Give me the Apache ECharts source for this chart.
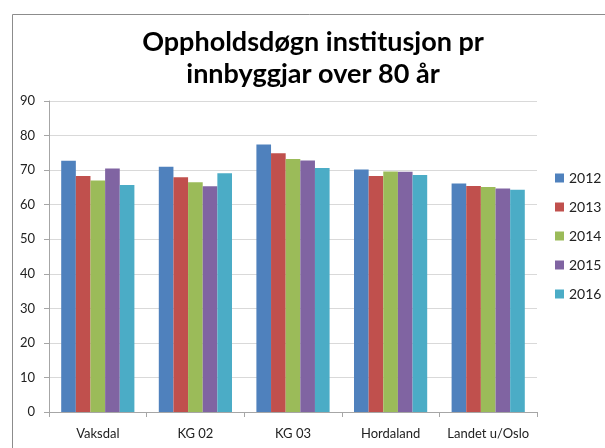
<!DOCTYPE html>
<html>
<head>
<meta charset="utf-8">
<script src="https://cdn.jsdelivr.net/npm/echarts@6/dist/echarts.min.js"></script>
<style>html,body{margin:0;padding:0;background:#fff}#c{width:605px;height:448px}</style>
</head>
<body>
<div id="c"></div>
<script>
const categories = ['Vaksdal', 'KG 02', 'KG 03', 'Hordaland', 'Landet u/Oslo'];
const years = ['2012', '2013', '2014', '2015', '2016'];
const v2012 = [72.7, 71.0, 77.4, 70.2, 66.1];
const v2013 = [68.3, 67.9, 74.9, 68.3, 65.4];
const v2014 = [67.0, 66.5, 73.2, 69.6, 65.1];
const v2015 = [70.5, 65.3, 72.8, 69.5, 64.7];
const v2016 = [65.7, 69.1, 70.6, 68.6, 64.3];
const yTicks = [0, 10, 20, 30, 40, 50, 60, 70, 80, 90];
const colors = ['#4F81BD', '#C0504D', '#9BBB59', '#8064A2', '#4BACC6'];
const seriesValues = [v2012, v2013, v2014, v2015, v2016];

const chart = echarts.init(document.getElementById('c'));
const font = 'Lato, "Liberation Sans", sans-serif';
chart.setOption({
  animation: false,
  color: colors,
  textStyle: { fontFamily: font },
  graphic: [{
    type: 'rect', left: 10, top: 12, silent: true,
    shape: { x: 0, y: 0, width: 700, height: 500 },
    style: { fill: 'none', stroke: '#8c8c8c', lineWidth: 1 }
  }],
  title: {
    text: 'Oppholdsdøgn institusjon pr\ninnbyggjar over 80 år',
    left: 313, top: 26, textAlign: 'center', padding: 0,
    textStyle: { fontFamily: font, fontSize: 27, fontWeight: 'bold', color: '#000', lineHeight: 32 }
  },
  legend: {
    orient: 'vertical', left: 555, top: 171, padding: 0,
    itemWidth: 9, itemHeight: 9, itemGap: 15, itemTextGap: 4,
    icon: 'rect',
    data: years,
    textStyle: { fontFamily: font, fontSize: 14, color: '#222', lineHeight: 14 }
  },
  grid: { left: 49, right: 68, top: 101, bottom: 36, containLabel: false },
  xAxis: {
    type: 'category', data: categories,
    axisLine: { lineStyle: { color: '#a6a6a6' } },
    axisTick: { show: true, alignWithLabel: false, length: 5, lineStyle: { color: '#a6a6a6' } },
    axisLabel: { fontFamily: font, fontSize: 13, color: '#222', margin: 15, interval: 0 }
  },
  yAxis: {
    type: 'value', min: yTicks[0], max: yTicks[yTicks.length - 1], interval: 10,
    axisLine: { show: true, lineStyle: { color: '#a6a6a6' } },
    axisTick: { show: true, length: 5, lineStyle: { color: '#a6a6a6' } },
    axisLabel: { fontFamily: font, fontSize: 13, color: '#222', margin: 14 },
    splitLine: { lineStyle: { color: '#d9d9d9' } }
  },
  series: years.map((y, i) => ({
    name: y, type: 'bar', data: seriesValues[i],
    barGap: '0%', barCategoryGap: '25%'
  }))
});
</script>
</body>
</html>
